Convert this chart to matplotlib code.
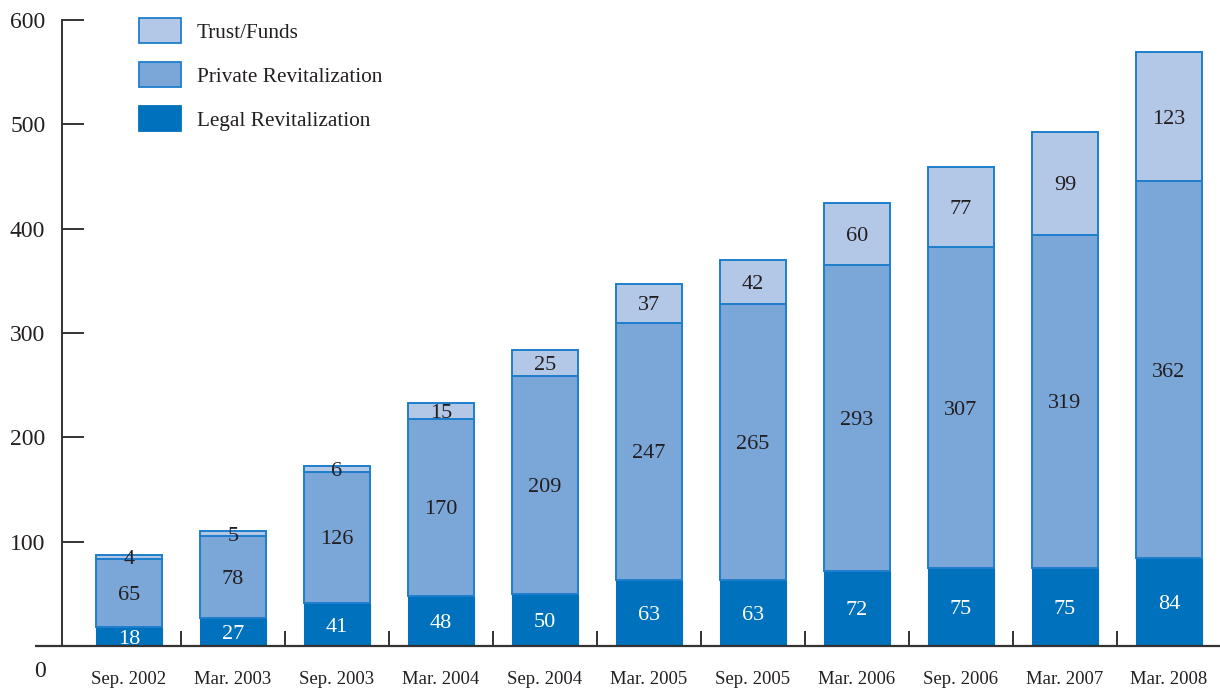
import matplotlib.pyplot as plt
from matplotlib.patches import Rectangle

plt.rcParams['font.family'] = ['Liberation Serif', 'DejaVu Serif']

periods = ["Sep. 2002", "Mar. 2003", "Sep. 2003", "Mar. 2004", "Sep. 2004", "Mar. 2005",
           "Sep. 2005", "Mar. 2006", "Sep. 2006", "Mar. 2007", "Mar. 2008"]
legal = [18, 27, 41, 48, 50, 63, 63, 72, 75, 75, 84]
private = [65, 78, 126, 170, 209, 247, 265, 293, 307, 319, 362]
trust = [4, 5, 6, 15, 25, 37, 42, 60, 77, 99, 123]

C_LEGAL = '#0071BC'
C_PRIVATE = '#7BA6D8'
C_TRUST = '#B3C7E7'
C_EDGE = '#1E7ECC'
C_TEXT = '#231F20'
C_AXIS = '#333333'

W, H = 1220, 688
fig = plt.figure(figsize=(W / 100, H / 100), dpi=100)
# axes box in pixel terms: y axis at x=62, zero line at y=646, 600 at y=20
ax = fig.add_axes([62 / W, (H - 646) / H, (W - 62) / W, 626 / H])

x0 = (62 - 129) / 104
x1 = (W - 129) / 104
ax.set_xlim(x0, x1)
ax.set_ylim(0, 600)

xs = list(range(len(periods)))
bw = 66 / 104

ax.bar(xs, legal, width=bw, color=C_LEGAL, edgecolor=C_LEGAL, linewidth=0.8, zorder=2)
ax.bar(xs, private, width=bw, bottom=legal, color=C_PRIVATE, edgecolor=C_EDGE,
       linewidth=1.4, zorder=2)
bot2 = [a + b for a, b in zip(legal, private)]
ax.bar(xs, trust, width=bw, bottom=bot2, color=C_TRUST, edgecolor=C_EDGE,
       linewidth=1.4, zorder=2)

for i in xs:
    ax.text(i, legal[i] / 2, str(legal[i]), ha='center', va='center_baseline',
            fontsize=16, color='white', zorder=3)
    ax.text(i, legal[i] + private[i] / 2, str(private[i]), ha='center',
            va='center_baseline', fontsize=16, color=C_TEXT, zorder=3)
    ax.text(i, bot2[i] + trust[i] / 2, str(trust[i]), ha='center',
            va='center_baseline', fontsize=16, color=C_TEXT, zorder=3)

# axes look
for s in ['top', 'right', 'bottom']:
    ax.spines[s].set_visible(False)
ax.spines['left'].set_color(C_AXIS)
ax.spines['left'].set_linewidth(1.4)

ax.set_yticks([100, 200, 300, 400, 500, 600])
ax.tick_params(axis='y', direction='in', length=16, width=1.4, color=C_AXIS,
               pad=12, labelsize=17, labelcolor=C_TEXT)
for t in ax.get_yticklabels():
    t.set_va('center_baseline')
ax.set_xticks(xs)
ax.set_xticklabels(periods)
ax.tick_params(axis='x', which='major', length=0, pad=18, labelsize=13.5, labelcolor=C_TEXT)
ax.set_xticks([i + 0.5 for i in xs[:-1]], minor=True)
ax.tick_params(axis='x', which='minor', direction='in', length=11, width=1.4, color=C_AXIS)

# zero line running past the y axis
ax.plot([(35 - 129) / 104, x1], [0, 0], color=C_AXIS, linewidth=1.6,
        clip_on=False, zorder=4, solid_capstyle='butt')
ax.text((40 - 129) / 104, -22, "0", ha='center', va='center_baseline', fontsize=17,
        color=C_TEXT, clip_on=False)

# legend
items = [("Trust/Funds", C_TRUST, C_EDGE, 18),
         ("Private Revitalization", C_PRIVATE, C_EDGE, 62),
         ("Legal Revitalization", C_LEGAL, C_LEGAL, 106)]
for label, fc, ec, top in items:
    fig.patches.append(Rectangle((139 / W, (H - top - 25) / H), 42 / W, 25 / H,
                                 facecolor=fc, edgecolor=ec, linewidth=1.3,
                                 transform=fig.transFigure, figure=fig))
    fig.text(197 / W, (H - top - 13) / H, label, ha='left', va='center_baseline',
             fontsize=15.3, color=C_TEXT)

fig.savefig('out.png', dpi=100)
